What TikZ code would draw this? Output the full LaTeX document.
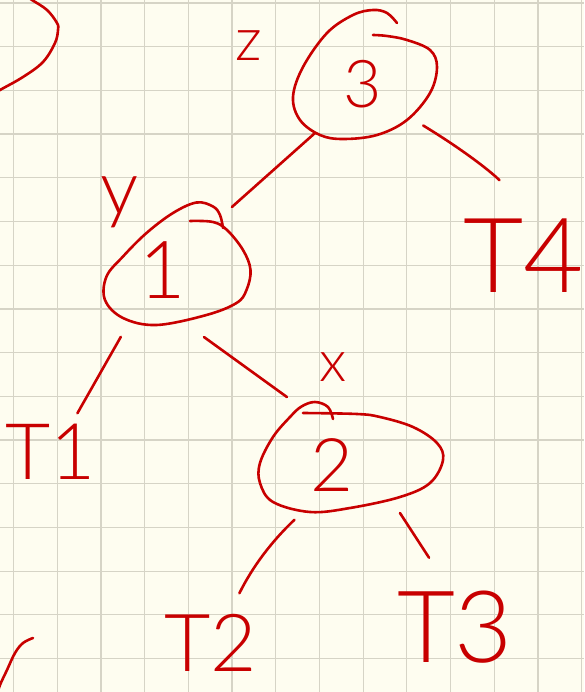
\documentclass[tikz,border=0pt]{standalone}
\usepackage{fontspec}
\newfontfamily\handfont{Lato Light}
\usetikzlibrary{shapes.geometric}
\definecolor{ink}{RGB}{200,0,0}
\definecolor{paper}{RGB}{254,253,240}
\definecolor{gridc}{RGB}{214,212,198}
\begin{document}
\begin{tikzpicture}[x=1pt,y=-1pt,
  inkline/.style={draw=ink,line width=2.6pt,line cap=round,line join=round},
  gridline/.style={draw=gridc,line width=1.2pt},
  loopnode/.style={ellipse,inner sep=0pt,outer sep=0pt},
  lbl/.style={text=ink,inner sep=0pt,outer sep=0pt},
]
\useasboundingbox (0,0) rectangle (584,692);
\fill[paper] (0,0) rectangle (584,692);
\clip (0,0) rectangle (584,692);
\foreach \i in {0,...,13} \draw[gridline] ({13.5+43.7*\i},0) -- ({13.5+43.7*\i},692);
\foreach \j in {0,...,15} \draw[gridline] (0,{3+43.7*\j}) -- (584,{3+43.7*\j});

% invisible loop nodes used as connector ends
\node[loopnode,minimum width=144pt,minimum height=128pt] (L3) at (365,74) {};
\node[loopnode,minimum width=144pt,minimum height=122pt] (L1) at (177,264) {};
\node[loopnode,minimum width=184pt,minimum height=110pt] (L2) at (350,457) {};

% texts
\node[lbl,font=\handfont\fontsize{66}{66}\selectfont] (d3) at (363,84) {3};
\node[lbl,font=\handfont\fontsize{80}{80}\selectfont] (d1) at (163,270) {1};
\node[lbl,font=\handfont\fontsize{74}{74}\selectfont] (d2) at (332,465) {2};
\node[lbl,font=\handfont\fontsize{60}{60}\selectfont] (lz) at (249,46) {z};
\node[lbl,font=\handfont\fontsize{76}{76}\selectfont] (ly) at (120,202) {y};
\node[lbl,font=\handfont\fontsize{58}{58}\selectfont] (lx) at (333,367) {x};
\node[lbl,font=\handfont\fontsize{78}{78}\selectfont] (T1) at (51,452) {T1};
\node[lbl,font=\handfont\fontsize{80}{80}\selectfont] (T2) at (211,643) {T2};
\node[lbl,font=\handfont\fontsize{100}{100}\selectfont] (T3) at (455,627) {T3};
\node[lbl,font=\handfont\fontsize{104}{104}\selectfont] (T4) at (524,256) {T4};

% hand-drawn loops
\draw[inkline] plot[smooth,tension=0.6] coordinates {(397,23) (387,13) (373,10) (353,15) (327,33) (303,67) (293,97) (300,120) (320,135) (343,139) (377,135) (407,120) (430,93) (437,67) (430,50) (407,40) (387,36) (373,35)};
\draw[inkline] plot[smooth,tension=0.6] coordinates {(190,221) (213,222) (227,230) (243,250) (250.5,270) (246.5,290) (236.5,303) (206.5,315) (156.5,325) (123,318) (105,300) (106.5,276.5) (123,256.5) (146.5,233) (173,213) (196.5,202.5) (213,206.5) (220,215) (223,228)};
\draw[inkline] plot[smooth,tension=0.6] coordinates {(333,419) (328,407) (315,402) (301.5,406.5) (290,417) (273,437) (260,463) (260,483) (273,502) (310,512) (350,508) (400,497) (430,483) (443,460) (437,443) (413,427) (380,417) (357,414) (303,413)};
% partial loops at the edges
\draw[inkline] plot[smooth,tension=0.6] coordinates {(26,-4) (32,0) (47,10) (57,23) (58,30) (55,43) (43,62) (23,77) (0,90) (-8,95)};
\draw[inkline] plot[smooth,tension=0.6] coordinates {(33,638) (23,643) (15,653) (7,670) (0,685) (-3,695)};

% connectors
\draw[inkline,shorten <=10.6pt,shorten >=13.8pt] (L3.231) -- (L1.47);
\draw[inkline,shorten <=10pt,shorten >=53pt] (L3.317) to[bend left=8] (T4.73);
\draw[inkline,shorten <=27.3pt,shorten >=12.7pt] (L1.229) -- (T1.54);
\draw[inkline,shorten <=21.5pt,shorten >=21.1pt] (L1.279) -- (L2.134);
\draw[inkline,shorten <=19.7pt,shorten >=23.6pt] (L2.230) to[bend right=10] (T2.58);
\draw[inkline,shorten <=9.5pt,shorten >=39.5pt] (L2.313) -- (T3.97);
\end{tikzpicture}
\end{document}
